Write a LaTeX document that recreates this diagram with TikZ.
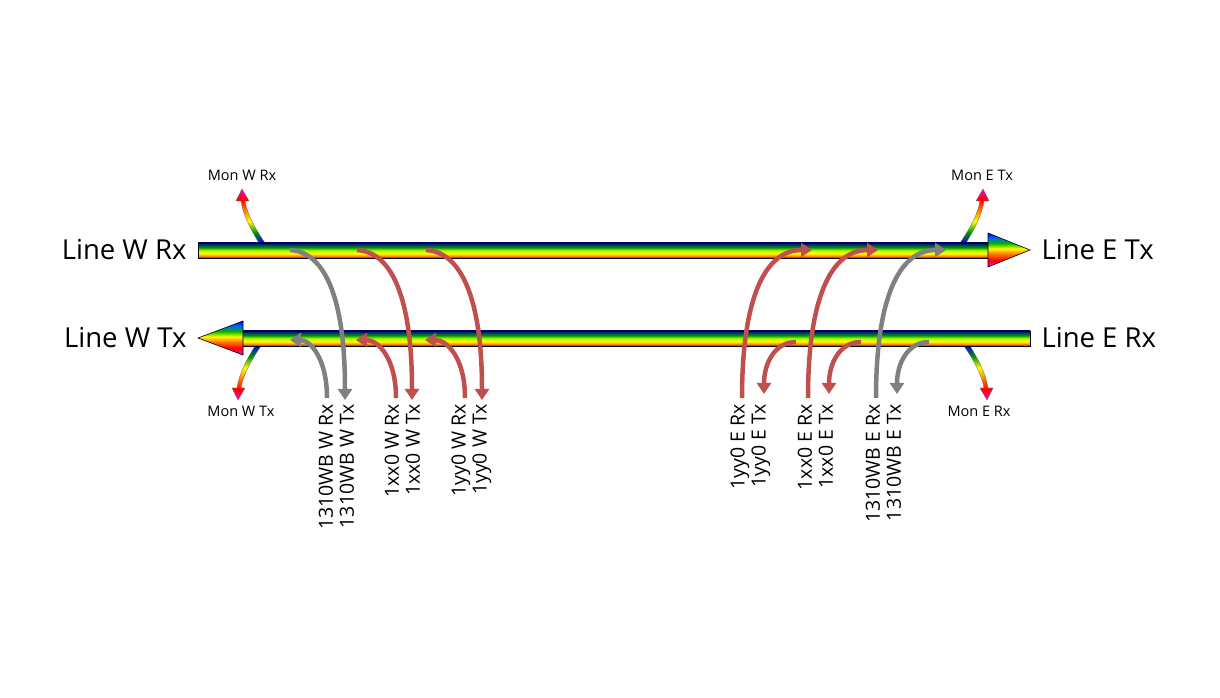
\documentclass[tikz,border=0pt]{standalone}
\usepackage{fontspec}
\setmainfont{Open Sans}
\usetikzlibrary{arrows.meta}
\pgfdeclareverticalshading{rainbowbar}{100bp}{color(0bp)=(red!85!black); color(25bp)=(red!85!black); color(31bp)=(orange); color(40bp)=(yellow); color(50bp)=(yellow!70!green); color(60bp)=(green!60!black); color(68bp)=(teal!60!black); color(75bp)=(blue!40!black); color(100bp)=(blue!40!black)}
\pgfdeclareverticalshading{rainbowhead}{100bp}{color(0bp)=(magenta); color(25bp)=(magenta); color(35bp)=(red); color(45bp)=(orange); color(52bp)=(yellow); color(60bp)=(green!70!black); color(68bp)=(blue!60!cyan); color(75bp)=(blue); color(100bp)=(blue)}
\pgfdeclareverticalshading{monup}{100bp}{color(0bp)=(blue); color(25bp)=(blue); color(35bp)=(green!60!black); color(45bp)=(yellow); color(55bp)=(orange); color(65bp)=(red); color(75bp)=(magenta!80!red); color(100bp)=(magenta!80!red)}
\pgfdeclareverticalshading{mondown}{100bp}{color(0bp)=(magenta!80!red); color(25bp)=(magenta!80!red); color(35bp)=(red); color(45bp)=(orange); color(55bp)=(yellow); color(65bp)=(green!60!black); color(75bp)=(blue); color(100bp)=(blue)}
\definecolor{cred}{RGB}{192,80,77}
\definecolor{cgray}{RGB}{128,128,128}
\tikzset{
  conn/.style={line width=4.5pt,-{Triangle[length=11pt,width=14pt]}},
  bigl/.style={font=\fontsize{27.5}{31}\selectfont},
  monl/.style={font=\fontsize{14.5}{17}\selectfont},
  rotl/.style={font=\fontsize{19.5}{22}\selectfont,rotate=90,anchor=east,inner sep=0pt},
}
\newcommand{\monarrow}[1]{%
  \shade[shading=#1,draw=black!60,line width=0.3pt] (-3,0) .. controls (-12,15) and (-19,28) .. (-21,42) -- (-26,42) -- (-20,54) -- (-13,42) -- (-17,42) .. controls (-15,30) and (-8,16) .. (3,0) -- cycle;}
\begin{document}
\begin{tikzpicture}[x=1pt,y=1pt]
\useasboundingbox (0,0) rectangle (1220,698);
\begin{scope}[shift={(262,455)}]\monarrow{monup}\end{scope}
\begin{scope}[shift={(963,455)},xscale=-1]\monarrow{monup}\end{scope}
\begin{scope}[shift={(258,352)},yscale=-1]\monarrow{mondown}\end{scope}
\begin{scope}[shift={(967,352)},xscale=-1,yscale=-1]\monarrow{mondown}\end{scope}
% top bar
\shade[shading=rainbowbar,draw=black,line width=0.6pt] (198,440) rectangle (990,455);
\shade[shading=rainbowhead,draw=black,line width=0.6pt] (988,431) -- (988,465) -- (1030,448) -- cycle;
% bottom bar
\shade[shading=rainbowbar,draw=black,line width=0.6pt] (240,352) rectangle (1030,367);
\shade[shading=rainbowhead,draw=black,line width=0.6pt] (243,343) -- (243,377) -- (198,360) -- cycle;
% labels
\node[bigl,anchor=east] (lwrx) at (190,448) {Line W Rx};
\node[bigl,anchor=east] (lwtx) at (190,360) {Line W Tx};
\node[bigl,anchor=west] (letx) at (1038,448) {Line E Tx};
\node[bigl,anchor=west] (lerx) at (1038,360) {Line E Rx};
\node[monl] (mwrx) at (242,523) {Mon W Rx};
\node[monl] (mwtx) at (241,287) {Mon W Tx};
\node[monl] (metx) at (982,523) {Mon E Tx};
\node[monl] (merx) at (979,287) {Mon E Rx};
% rotated port labels
\node[rotl] (a1) at (326,294) {1310WB W Rx};
\node[rotl] (a2) at (347,294) {1310WB W Tx};
\node[rotl] (b1) at (392,294) {1xx0 W Rx};
\node[rotl] (b2) at (413,294) {1xx0 W Tx};
\node[rotl] (c1) at (461,294) {1yy0 W Rx};
\node[rotl] (c2) at (482,294) {1yy0 W Tx};
\node[rotl] (d1) at (740,294) {1yy0 E Rx};
\node[rotl] (d2) at (761,294) {1yy0 E Tx};
\node[rotl] (e1) at (805,294) {1xx0 E Rx};
\node[rotl] (e2) at (826,294) {1xx0 E Tx};
\node[rotl] (f1) at (873,294) {1310WB E Rx};
\node[rotl] (f2) at (894,294) {1310WB E Tx};
% connector end points
\coordinate (wg1s) at (290,448); \coordinate (wg1e) at (345,298);
\coordinate (wg2s) at (327,300); \coordinate (wg2e) at (290,358);
\coordinate (wr1s) at (357,448); \coordinate (wr1e) at (412,298);
\coordinate (wr2s) at (396,300); \coordinate (wr2e) at (356,358);
\coordinate (wy1s) at (426,448); \coordinate (wy1e) at (482,298);
\coordinate (wy2s) at (465,300); \coordinate (wy2e) at (425,358);
\coordinate (ey1s) at (742,300); \coordinate (ey1e) at (812,448);
\coordinate (ey2s) at (796,356); \coordinate (ey2e) at (764,304);
\coordinate (ex1s) at (808,300); \coordinate (ex1e) at (878,448);
\coordinate (ex2s) at (861,356); \coordinate (ex2e) at (829,304);
\coordinate (eg1s) at (876,300); \coordinate (eg1e) at (946,448);
\coordinate (eg2s) at (929,356); \coordinate (eg2e) at (897,304);
% west connectors
\draw[conn,cgray] (wg1s) .. controls (325,446) and (345,400) .. (wg1e);
\draw[conn,cgray] (wg2s) .. controls (327,340) and (310,358) .. (wg2e);
\draw[conn,cred] (wr1s) .. controls (392,446) and (412,400) .. (wr1e);
\draw[conn,cred] (wr2s) .. controls (396,340) and (378,358) .. (wr2e);
\draw[conn,cred] (wy1s) .. controls (461,446) and (482,400) .. (wy1e);
\draw[conn,cred] (wy2s) .. controls (465,340) and (447,358) .. (wy2e);
% east connectors
\draw[conn,cred] (ey1s) .. controls (742,400) and (765,448) .. (ey1e);
\draw[conn,cred] (ey2s) .. controls (775,356) and (764,335) .. (ey2e);
\draw[conn,cred] (ex1s) .. controls (808,400) and (831,448) .. (ex1e);
\draw[conn,cred] (ex2s) .. controls (840,356) and (829,335) .. (ex2e);
\draw[conn,cgray] (eg1s) .. controls (876,400) and (899,448) .. (eg1e);
\draw[conn,cgray] (eg2s) .. controls (908,356) and (897,335) .. (eg2e);
\end{tikzpicture}
\end{document}
